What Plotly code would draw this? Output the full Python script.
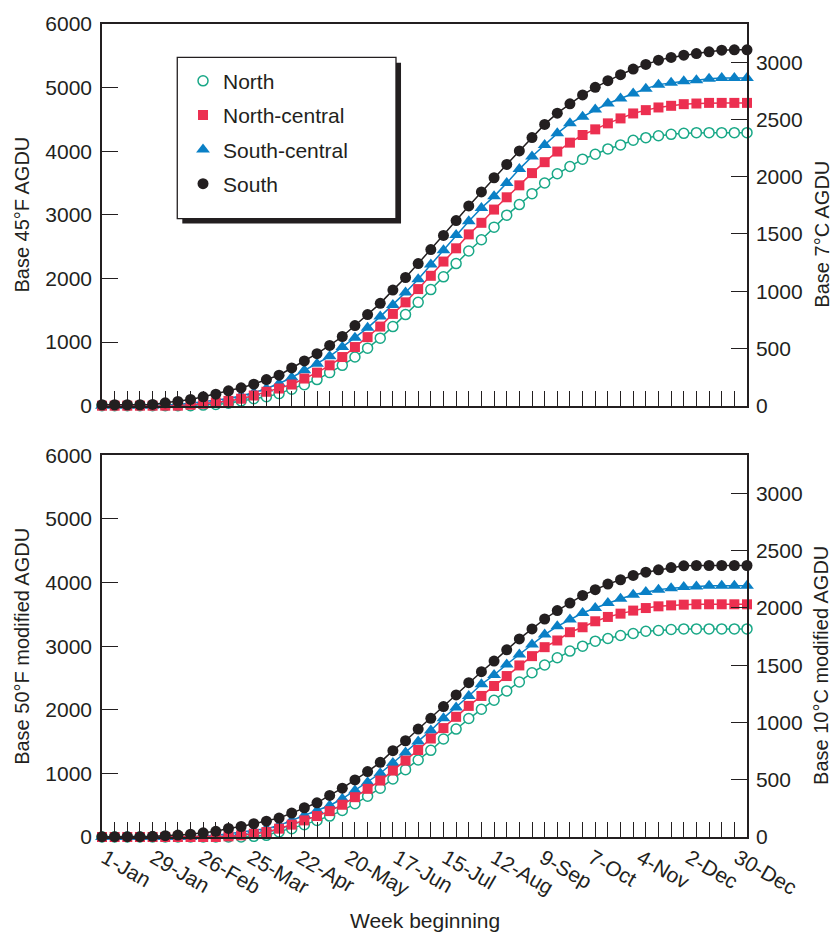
import plotly.graph_objects as go

# Week index (0 = week beginning 1-Jan), one point per week
week = list(range(52))
label_weeks = list(range(0, 53, 4))
label_text = ["1-Jan", "29-Jan", "26-Feb", "25-Mar", "22-Apr", "20-May", "17-Jun",
              "15-Jul", "12-Aug", "9-Sep", "7-Oct", "4-Nov", "2-Dec", "30-Dec"]

# Accumulated growing degree units, base 45°F
north_45 = [0, 0, 0, 0, 0, 0, 0, 0, 10, 20, 40, 75, 110, 141, 190, 260, 330, 411, 520, 635,
            765, 905, 1062, 1244, 1432, 1625, 1825, 2026, 2234, 2432, 2609, 2807, 2995, 3161,
            3333, 3500, 3646, 3760, 3875, 3953, 4036, 4099, 4172, 4213, 4244, 4266, 4281,
            4292, 4292, 4292, 4292, 4292]
ncentral_45 = [0, 0, 0, 0, 0, 0, 0, 15, 30, 50, 75, 110, 160, 219, 270, 333, 427, 520, 635,
               765, 922, 1078, 1244, 1443, 1625, 1833, 2042, 2266, 2474, 2693, 2875, 3083,
               3276, 3464, 3656, 3828, 3995, 4135, 4255, 4344, 4438, 4516, 4594, 4646, 4688,
               4714, 4740, 4750, 4760, 4760, 4760, 4760]
scentral_45 = [0, 0, 0, 0, 0, 10, 20, 36, 62, 88, 114, 156, 203, 270, 349, 443, 557, 661,
               776, 922, 1067, 1224, 1401, 1583, 1781, 1989, 2220, 2442, 2682, 2901, 3109,
               3291, 3500, 3719, 3917, 4099, 4281, 4438, 4542, 4656, 4750, 4828, 4906, 4984,
               5047, 5078, 5099, 5115, 5141, 5151, 5151, 5151]
south_45 = [15, 15, 15, 15, 20, 46, 67, 98, 140, 182, 234, 281, 338, 411, 479, 593, 703, 817,
            947, 1088, 1260, 1432, 1609, 1817, 2015, 2234, 2455, 2677, 2910, 3140, 3360, 3583,
            3792, 4005, 4214, 4422, 4599, 4745, 4885, 5005, 5109, 5203, 5292, 5365, 5432,
            5474, 5510, 5535, 5562, 5589, 5594, 5594]

# Accumulated modified growing degree units, base 50°F
north_50 = [0, 0, 0, 0, 0, 0, 0, 0, 0, 0, 0, 0, 10, 26, 78, 131, 194, 261, 329, 418, 522, 642,
            767, 913, 1059, 1210, 1362, 1540, 1696, 1862, 2009, 2150, 2296, 2437, 2582, 2703,
            2817, 2922, 3000, 3078, 3120, 3167, 3199, 3235, 3246, 3261, 3271, 3271, 3271,
            3271, 3271, 3271]
ncentral_50 = [0, 0, 0, 0, 0, 0, 0, 0, 0, 0, 10, 26, 52, 78, 131, 194, 261, 329, 407, 507,
               626, 757, 887, 1044, 1200, 1368, 1548, 1712, 1889, 2061, 2217, 2374, 2530,
               2697, 2843, 2984, 3089, 3219, 3297, 3391, 3459, 3511, 3559, 3599, 3626, 3641,
               3652, 3658, 3658, 3658, 3658, 3658]
scentral_50 = [0, 0, 0, 0, 0, 0, 0, 0, 15, 26, 52, 78, 104, 131, 183, 261, 340, 418, 496, 601,
               731, 861, 1002, 1164, 1330, 1502, 1675, 1868, 2035, 2217, 2400, 2546, 2713,
               2869, 3026, 3182, 3312, 3417, 3521, 3599, 3678, 3746, 3809, 3850, 3887, 3912,
               3928, 3939, 3950, 3950, 3950, 3950]
south_50 = [5, 5, 5, 5, 10, 20, 30, 45, 65, 90, 135, 165, 209, 248, 298, 376, 460, 538, 653,
            767, 898, 1028, 1174, 1357, 1513, 1696, 1865, 2050, 2233, 2426, 2598, 2765, 2942,
            3114, 3271, 3427, 3559, 3678, 3798, 3887, 3975, 4044, 4111, 4163, 4200, 4236,
            4263, 4268, 4268, 4268, 4268, 4268]

F_MAX = 6000
C_MAX = F_MAX * 5 / 9   # same scale expressed in °C units

INK = "#231f20"
GREEN = "#19a887"
RED = "#ec2f50"
BLUE = "#0a80c6"
FONT = "Liberation Sans, Arial, Helvetica, sans-serif"

series = {
    "North": (north_45, north_50, GREEN,
              dict(symbol="circle", size=10, color="white", line=dict(color=GREEN, width=1.5))),
    "North-central": (ncentral_45, ncentral_50, RED,
                      dict(symbol="square", size=10, color=RED, line=dict(width=0))),
    "South-central": (scentral_45, scentral_50, BLUE,
                      dict(symbol="triangle-up", size=12, color=BLUE, line=dict(width=0))),
    "South": (south_45, south_50, INK,
              dict(symbol="circle", size=11, color=INK, line=dict(width=0))),
}
legend_order = ["North", "North-central", "South-central", "South"]
draw_order = ["North", "South-central", "North-central", "South"]

fig = go.Figure()
for name in draw_order:
    v45, v50, color, marker = series[name]
    rank = legend_order.index(name) + 1
    for values, xa, ya, in_legend in ((v45, "x", "y", True), (v50, "x2", "y3", False)):
        # connecting line (kept out of the legend so only the symbol shows there)
        fig.add_trace(go.Scatter(x=week, y=values, xaxis=xa, yaxis=ya, mode="lines",
                                 line=dict(color=color, width=1.5), showlegend=False,
                                 legendgroup=name, hoverinfo="skip", cliponaxis=False))
        fig.add_trace(go.Scatter(x=week, y=values, xaxis=xa, yaxis=ya, mode="markers",
                                 marker=marker, name=name, legendgroup=name,
                                 legendrank=rank, showlegend=in_legend,
                                 hoverinfo="skip", cliponaxis=False))

# carrier for the week-label axis
fig.add_trace(go.Scatter(x=[None], y=[None], xaxis="x3", yaxis="y3", mode="markers",
                         showlegend=False, hoverinfo="skip"))

tick_font = dict(family=FONT, size=21, color=INK)
axis_line = dict(showline=True, linecolor=INK, linewidth=1.5, showgrid=False,
                 zeroline=False, ticks="inside", tickcolor=INK, tickwidth=1.3)

week_axis = dict(range=[0, 51], tickmode="linear", tick0=0, dtick=1, ticklen=15,
                 showticklabels=False, mirror=True, **axis_line)
f_axis = dict(range=[0, F_MAX], tickmode="linear", tick0=0, dtick=1000, ticklen=16,
              tickfont=tick_font, ticklabelstandoff=4, **axis_line)
c_axis = dict(range=[0, C_MAX], tickmode="linear", tick0=0, dtick=500, ticklen=16,
              tickfont=tick_font, side="right", ticklabelstandoff=3, **axis_line)

top_dom = [0.5305, 1.0]
bot_dom = [0.0, 0.4695]

fig.update_layout(
    width=833, height=935,
    margin=dict(l=102, r=86, t=17, b=98),
    paper_bgcolor="white", plot_bgcolor="white",
    font=dict(family=FONT, color=INK),
    xaxis=dict(domain=[0, 1], anchor="y", **week_axis),
    yaxis=dict(domain=top_dom, anchor="x", **f_axis),
    yaxis2=dict(overlaying="y", anchor="x", **c_axis),
    xaxis2=dict(domain=[0, 1], anchor="y3", **week_axis),
    yaxis3=dict(domain=bot_dom, anchor="x2", **f_axis),
    yaxis4=dict(overlaying="y3", anchor="x2", **c_axis),
    xaxis3=dict(overlaying="x2", anchor="y3", range=[-0.25, 52.75],
                tickmode="array", tickvals=label_weeks, ticktext=label_text,
                tickangle=30, ticks="", showline=False, showgrid=False, zeroline=False,
                tickfont=tick_font, ticklabelstandoff=4),
    legend=dict(x=0.1256, y=0.9549, xanchor="left", yanchor="top",
                bgcolor="rgba(0,0,0,0)", borderwidth=0, traceorder="grouped",
                tracegroupgap=4, font=dict(family=FONT, size=21, color=INK)),
    showlegend=True,
)

# Legend frame with a drop shadow
fig.add_shape(type="rect", xref="paper", yref="paper", x0=0.1245, x1=0.4636,
              y0=0.7545, y1=0.9524, fillcolor=INK, line=dict(width=0), layer="above")
fig.add_shape(type="rect", xref="paper", yref="paper", x0=0.1167, x1=0.4558,
              y0=0.7606, y1=0.9589, fillcolor="white", line=dict(color=INK, width=1.3),
              layer="above")

title_font = dict(family=FONT, size=20, color=INK)
for text, yref, yval, xpos in (("Base 45°F AGDU", "y", F_MAX / 2, -0.1245),
                               ("Base 7°C AGDU", "y2", 1500, 1.1158),
                               ("Base 50°F modified AGDU", "y3", F_MAX / 2, -0.1245),
                               ("Base 10°C modified AGDU", "y4", 1500, 1.1158)):
    fig.add_annotation(text=text, xref="paper", yref=yref, x=xpos, y=yval, textangle=-90,
                       xanchor="center", yanchor="middle", showarrow=False, font=title_font)
fig.add_annotation(text="Week beginning", xref="paper", yref="paper", x=0.5, y=-0.1024,
                   xanchor="center", yanchor="middle", showarrow=False,
                   font=dict(family=FONT, size=21, color=INK))

fig.write_html("out.html")
